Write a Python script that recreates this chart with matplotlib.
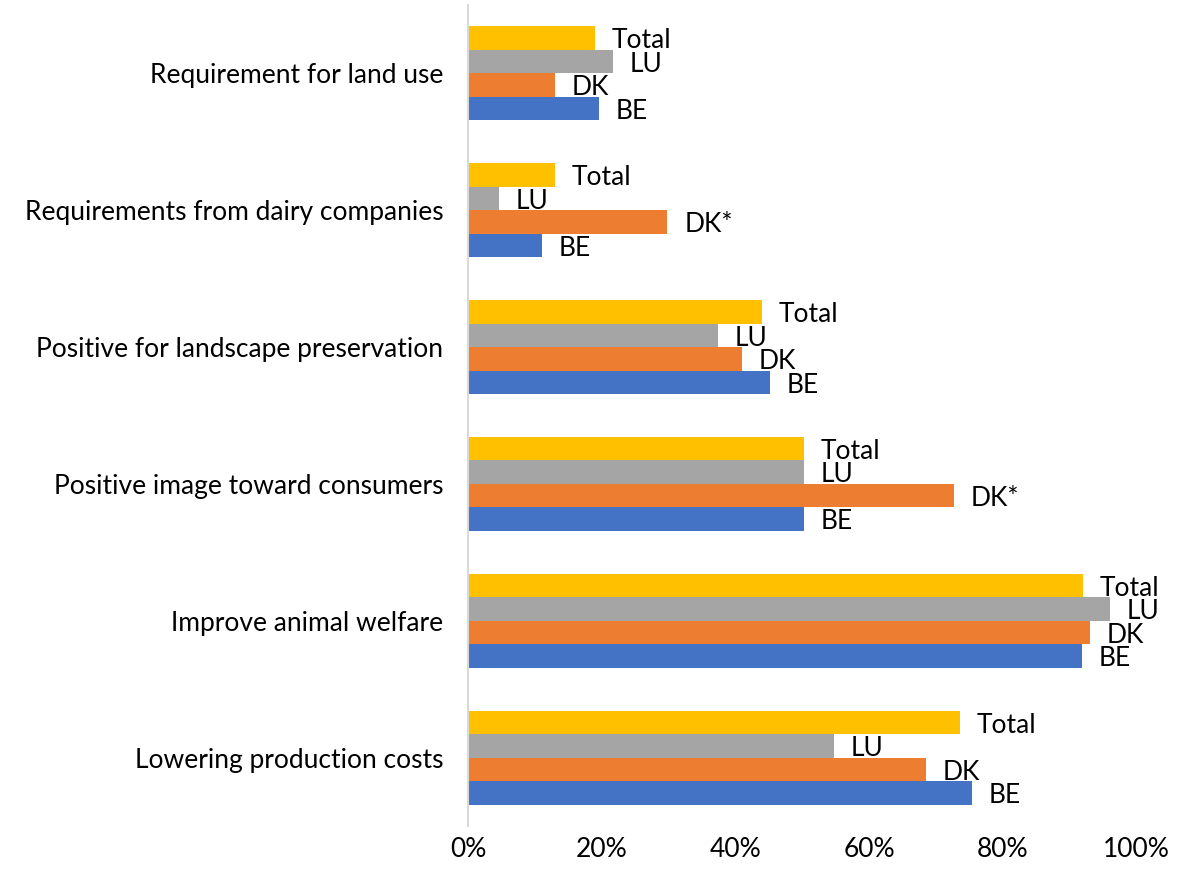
import numpy as np
import matplotlib.pyplot as plt
from matplotlib.ticker import PercentFormatter

plt.rcParams['font.family'] = ['Lato', 'DejaVu Sans']

# categories listed bottom to top
categories = [
    "Lowering production costs",
    "Improve animal welfare",
    "Positive image toward consumers",
    "Positive for landscape preservation",
    "Requirements from dairy companies",
    "Requirement for land use",
]
be = [75.4, 91.9, 50.2, 45.1, 11.0, 19.6]
dk = [68.5, 93.1, 72.7, 40.9, 29.8, 13.0]
lu = [54.7, 96.1, 50.2, 37.3, 4.6, 21.7]
total = [73.6, 92.0, 50.2, 44.0, 13.0, 19.0]
dk_names = ["DK", "DK", "DK*", "DK", "DK*", "DK"]

series = [
    ("BE", be, "#4472C4"),
    ("DK", dk, "#ED7D31"),
    ("LU", lu, "#A5A5A5"),
    ("Total", total, "#FFC000"),
]

fig = plt.figure(figsize=(11.8, 8.81), dpi=100)
ax = fig.add_axes([0.397, 0.0624, 0.566, 0.932])

y = np.arange(len(categories))
h = 0.172
for i, (name, vals, col) in enumerate(series):
    pos = y + (i - 1.5) * h
    ax.barh(pos, vals, height=h, color=col)
    for j, (p, v) in enumerate(zip(pos, vals)):
        txt = dk_names[j] if name == "DK" else name
        ax.annotate(txt, (v, p), xytext=(12, -2), textcoords="offset points",
                    ha="left", va="center", fontsize=19, color="#000000")

ax.set_xlim(0, 100)
ax.set_ylim(-0.5, len(categories) - 0.5)
ax.set_yticks(y)
ax.set_yticklabels(categories, fontsize=19)
ax.set_xticks(np.arange(0, 101, 20))
ax.xaxis.set_major_formatter(PercentFormatter(decimals=0))
ax.tick_params(axis="x", length=0, pad=8, labelsize=19)
ax.tick_params(axis="y", length=0, pad=18)

for s in ["top", "right", "bottom"]:
    ax.spines[s].set_visible(False)
ax.spines["left"].set_color("#D9D9D9")
ax.spines["left"].set_linewidth(1.5)

fig.savefig("out.png", dpi=100)
